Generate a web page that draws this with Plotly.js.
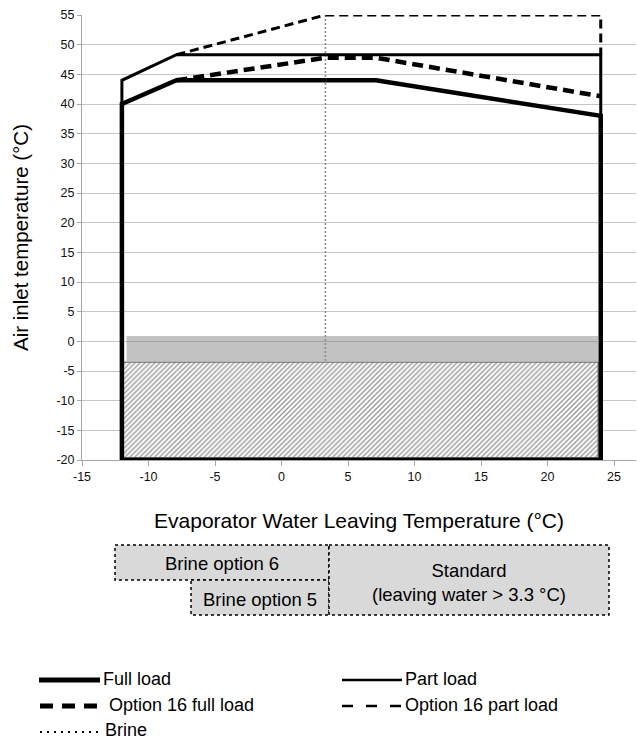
<!DOCTYPE html>
<html>
<head>
<meta charset="utf-8">
<script src="https://cdn.plot.ly/plotly-3.0.1.min.js"></script>
<style>html,body{margin:0;padding:0;background:#fff;}#chart{width:637px;height:743px;}</style>
</head>
<body>
<div id="chart"></div>
<script>
// ---- data ----
const fullLoadX = [-12, -12, -7.9, 7.1, 24, 24, -12];
const fullLoadY = [-20, 40, 44, 44, 38, -20, -20];
const partLoadX = [-12, -12, -7.9, 24, 24];
const partLoadY = [40, 44, 48.3, 48.3, 38];
const opt16FullX = [-7.9, 3.3, 7.1, 24];
const opt16FullY = [44, 47.8, 47.8, 41.3];
const opt16PartX = [-7.9, 3.3, 24, 24];
const opt16PartY = [48.3, 55, 55, 48.3];
const brineX = [3.3, 3.3];
const brineY = [55, -3.5];
const bandX = [-11.65, 23.8, 23.8, -11.65, -11.65];
const bandY = [0.9, 0.9, -3.3, -3.3, 0.9];
const hatchX = [-11.9, 23.8, 23.8, -11.9, -11.9];
const hatchY = [-3.5, -3.5, -19.6, -19.6, -3.5];
const xTicks = [-15, -10, -5, 0, 5, 10, 15, 20, 25];
const xTickText = ['-15', '-10', '-5', '0', '5', '10', '15', '20', '25'];
const yTicks = [-20, -15, -10, -5, 0, 5, 10, 15, 20, 25, 30, 35, 40, 45, 50, 55];
const yTickText = ['-20', '-15', '-10', '-5', '0', '5', '10', '15', '20', '25', '30', '35', '40', '45', '50', '55'];
const boxLabels = ['Brine option 6', 'Brine option 5', 'Standard<br>(leaving water > 3.3 °C)'];
const legendLabels = ['Full load', 'Part load', 'Option 16 full load', 'Option 16 part load', 'Brine'];

// ---- layout helpers (pixel -> paper) ----
const L = 82, R = 636, T = 15, B = 460;
const px = p => (p - L) / (R - L);
const py = p => (B - p) / (B - T);

const traces = [
  {x: hatchX, y: hatchY, mode: 'lines', fill: 'toself', line: {color: '#6e6e6e', width: 1.2},
   fillpattern: {shape: '/', size: 3.5, solidity: 0.38, fgcolor: '#959595', bgcolor: '#ffffff'}, hoverinfo: 'skip'},
  {x: bandX, y: bandY, mode: 'lines', fill: 'toself', fillcolor: 'rgba(120,120,120,0.45)', line: {width: 0}, hoverinfo: 'skip'},
  {x: brineX, y: brineY, mode: 'lines', line: {color: '#8c8c8c', width: 1.6, dash: '2px,2px'}, name: legendLabels[4]},
  {x: opt16PartX, y: opt16PartY, mode: 'lines', line: {color: '#000', width: 3, dash: '9px,5px'}, name: legendLabels[3]},
  {x: partLoadX, y: partLoadY, mode: 'lines', line: {color: '#000', width: 3}, name: legendLabels[1]},
  {x: opt16FullX, y: opt16FullY, mode: 'lines', line: {color: '#000', width: 4.5, dash: '11px,6px'}, name: legendLabels[2]},
  {x: fullLoadX, y: fullLoadY, mode: 'lines', line: {color: '#000', width: 4.5}, name: legendLabels[0]}
];

const shapes = [];
const annotations = [];
const fnt = {family: 'Liberation Sans, Arial, sans-serif', size: 18.5, color: '#000'};

// boxes below the chart
function box(x0, x1, y0, y1) {
  shapes.push({type: 'rect', xref: 'paper', yref: 'paper', x0: px(x0), x1: px(x1), y0: py(y0), y1: py(y1),
    fillcolor: '#d9d9d9', line: {color: '#000', width: 1.5, dash: 'dot'}, layer: 'above'});
}
box(115, 329, 545, 580);
box(191, 329, 580, 615);
box(329, 609, 545, 615);
function ctext(x, y, t) {
  annotations.push({xref: 'paper', yref: 'paper', x: px(x), y: py(y), xanchor: 'center', yanchor: 'middle',
    text: t, showarrow: false, font: fnt});
}
ctext(222, 563, boxLabels[0]);
ctext(260, 599, boxLabels[1]);
ctext(469, 582, boxLabels[2]);

// legend samples
function sample(x0, x1, y, w, dash) {
  shapes.push({type: 'line', xref: 'paper', yref: 'paper', x0: px(x0), x1: px(x1), y0: py(y), y1: py(y),
    line: {color: '#000', width: w, dash: dash}});
}
function label(x, y, t) {
  annotations.push({xref: 'paper', yref: 'paper', x: px(x), y: py(y), xanchor: 'left', yanchor: 'middle',
    text: t, showarrow: false, font: {family: fnt.family, size: 18, color: '#000'}});
}
sample(39, 100, 680, 5, 'solid'); label(101, 679, legendLabels[0]);
sample(342, 402, 680, 2.5, 'solid'); label(403, 679, legendLabels[1]);
sample(40, 98, 706, 5, '13px,9px'); label(107, 705, legendLabels[2]);
sample(342, 402, 706, 2.5, '11px,13px'); label(403, 705, legendLabels[3]);
sample(40, 102, 732, 1.8, '2px,5px'); label(103, 730, legendLabels[4]);

const layout = {
  width: 637, height: 743,
  margin: {l: L, r: 637 - R, t: T, b: 743 - B},
  paper_bgcolor: '#fff', plot_bgcolor: '#fff',
  showlegend: false,
  xaxis: {range: [-15, 26.65], tickvals: xTicks, ticktext: xTickText, showgrid: false, zeroline: false,
    showline: true, linecolor: '#a6a6a6', linewidth: 1, ticks: 'outside', ticklen: 5, tickcolor: '#a6a6a6',
    tickfont: {family: 'Liberation Sans, Arial, sans-serif', size: 12.5, color: '#111'},
    title: {text: 'Evaporator Water Leaving Temperature (°C)', standoff: 30,
      font: {family: 'Liberation Sans, Arial, sans-serif', size: 21, color: '#000'}}, automargin: false},
  yaxis: {range: [-20, 55], tickvals: yTicks, ticktext: yTickText, showgrid: true, gridcolor: '#c6c6c6', gridwidth: 1, zeroline: false,
    showline: true, linecolor: '#a6a6a6', linewidth: 1, ticks: 'outside', ticklen: 4, tickcolor: '#a6a6a6',
    tickfont: {family: 'Liberation Sans, Arial, sans-serif', size: 12.5, color: '#111'},
    title: {text: 'Air inlet temperature (°C)', standoff: 22,
      font: {family: 'Liberation Sans, Arial, sans-serif', size: 20.5, color: '#000'}}, automargin: false},
  shapes: shapes,
  annotations: annotations
};

Plotly.newPlot('chart', traces, layout, {staticPlot: true, displayModeBar: false});
</script>
</body>
</html>
